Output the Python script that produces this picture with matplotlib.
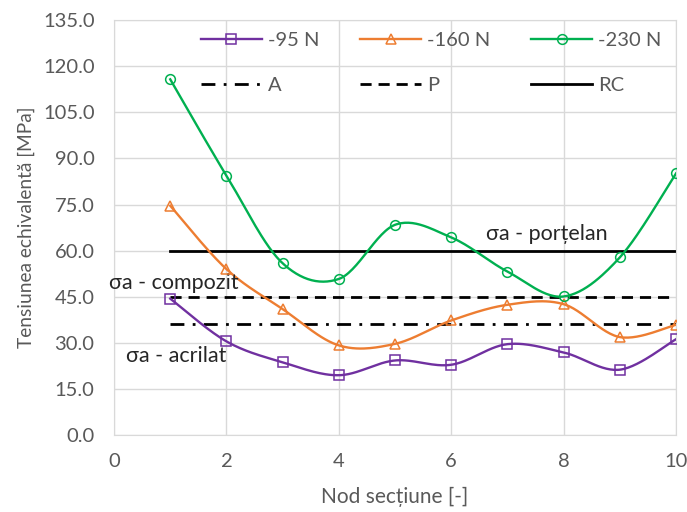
import matplotlib.pyplot as plt
import numpy as np

plt.rcParams['font.family'] = ['Lato', 'DejaVu Sans']

# ---- data ----
nodes = [1, 2, 3, 4, 5, 6, 7, 8, 9, 10]
s95 = [44.4, 30.5, 23.7, 19.5, 24.3, 22.9, 29.6, 26.9, 21.3, 31.2]
s160 = [74.6, 54.0, 41.0, 29.2, 29.7, 37.3, 42.4, 42.6, 31.9, 35.9]
s230 = [115.7, 84.4, 55.9, 50.8, 68.4, 64.3, 53.2, 45.1, 57.8, 85.1]

sigma_a = 36.0   # acrilat
sigma_p = 45.0   # compozit
sigma_rc = 60.0  # portelan


def smooth(x, y, n=30):
    # excel-like smoothed line (catmull-rom bezier)
    p = np.column_stack([x, y]).astype(float)
    p = np.vstack([p[0], p, p[-1]])
    t = np.linspace(0, 1, n)[:, None]
    out = []
    for i in range(1, len(p) - 2):
        p0, p1, p2, p3 = p[i - 1], p[i], p[i + 1], p[i + 2]
        b1 = p1 + (p2 - p0) / 6
        b2 = p2 - (p3 - p1) / 6
        seg = ((1 - t) ** 3) * p1 + 3 * ((1 - t) ** 2) * t * b1 + 3 * (1 - t) * t ** 2 * b2 + t ** 3 * p2
        out.append(seg)
    out = np.vstack(out)
    return out[:, 0], out[:, 1]


fig = plt.figure(figsize=(6.87, 5.12), dpi=100)
ax = fig.add_axes([0.166, 0.150, 0.818, 0.811])

grey = '#595959'
series = [
    (s95, '#7030A0', 's', '-95 N'),
    (s160, '#ED7D31', '^', '-160 N'),
    (s230, '#00B050', 'o', '-230 N'),
]
handles = []
for vals, col, mk, lab in series:
    xs, ys = smooth(nodes, vals)
    ax.plot(xs, ys, color=col, lw=1.7, zorder=3)
    ax.plot(nodes, vals, ls='none', marker=mk, ms=7, mfc='none', mec=col, mew=1.1, zorder=4)
    h, = ax.plot([], [], color=col, lw=1.7, marker=mk, ms=7, mfc='none', mec=col, mew=1.1, label=lab)
    handles.append(h)

x0, x1 = nodes[0], nodes[-1]
ha, = ax.plot([x0, x1], [sigma_a] * 2, color='black', lw=2, dashes=(5, 3, 1, 3), label='A', zorder=2)
hp, = ax.plot([x0, x1], [sigma_p] * 2, color='black', lw=2, dashes=(4, 2.5), label='P', zorder=2)
hr, = ax.plot([x0, x1], [sigma_rc] * 2, color='black', lw=2, label='RC', zorder=2)

ann = dict(fontsize=15.5, color='#262626', ha='center', va='center')
ax.text(7.7, 65.4, 'σa - porțelan', **ann)
ax.text(1.07, 49.4, 'σa - compozit', **ann)
ax.text(1.1, 25.8, 'σa - acrilat', **ann)

ax.set_xlim(0, 10)
ax.set_ylim(0, 135)
ax.set_xticks(np.arange(0, 11, 2))
ax.set_yticks(np.arange(0, 136, 15))
ax.set_yticklabels([f'{v:.1f}' for v in np.arange(0, 136, 15)])
ax.tick_params(length=0, labelsize=14.5, colors=grey)
ax.tick_params(axis='y', pad=14)
ax.tick_params(axis='x', pad=13)
ax.grid(True, color='#d9d9d9', lw=1)
ax.set_axisbelow(True)
for sp in ax.spines.values():
    sp.set_color('#d9d9d9')

ax.set_xlabel('Nod secțiune [-]', fontsize=15, color=grey, labelpad=12)
ax.set_ylabel('Tensiunea echivalentă [MPa]', fontsize=13.8, color=grey, labelpad=6)

order = [handles[0], ha, handles[1], hp, handles[2], hr]
ax.legend(handles=order, labels=[h.get_label() for h in order], ncol=3, frameon=False,
          loc='upper left', bbox_to_anchor=(0.155, 0.971), borderpad=0, borderaxespad=0,
          fontsize=14.5, labelcolor=grey, handlelength=3.0, handletextpad=0.3,
          columnspacing=2.05, labelspacing=1.4)

fig.savefig('out.png', dpi=100)
